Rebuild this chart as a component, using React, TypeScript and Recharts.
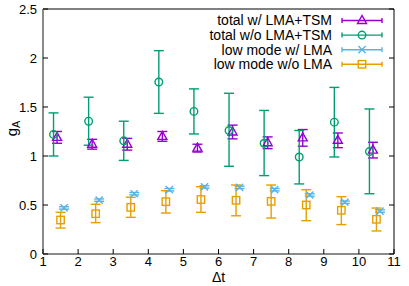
import React from 'react';
import { ComposedChart, Scatter, XAxis, YAxis, ErrorBar, Legend, Label } from 'recharts';

const FONT = '"Liberation Sans", Arial, Helvetica, sans-serif';

const seriesNames = ['total w/ LMA+TSM', 'total w/o LMA+TSM', 'low mode w/ LMA', 'low mode w/o LMA'];
const seriesColors = ['#9400d3', '#009e73', '#56b4e9', '#e69f00'];

// total w/ LMA+TSM (purple triangles)
const xTotalWith = [1.4, 2.4, 3.4, 4.4, 5.4, 6.4, 7.4, 8.4, 9.4, 10.4];
const gTotalWith = [1.19, 1.12, 1.12, 1.2, 1.08, 1.245, 1.135, 1.185, 1.16, 1.06];
const eTotalWith = [0.06, 0.05, 0.06, 0.05, 0.04, 0.07, 0.06, 0.085, 0.075, 0.08];

// total w/o LMA+TSM (green circles)
const xTotalWithout = [1.3, 2.3, 3.3, 4.3, 5.3, 6.3, 7.3, 8.3, 9.3, 10.3];
const gTotalWithout = [1.22, 1.355, 1.155, 1.755, 1.455, 1.26, 1.13, 0.99, 1.345, 1.045];
const loTotalWithout = [1.0, 1.11, 0.955, 1.435, 1.225, 0.895, 0.8, 0.715, 0.99, 0.615];
const hiTotalWithout = [1.44, 1.6, 1.355, 2.075, 1.685, 1.64, 1.465, 1.26, 1.7, 1.48];

// low mode w/ LMA (blue crosses)
const xLowWith = [1.6, 2.6, 3.6, 4.6, 5.6, 6.6, 7.6, 8.6, 9.6, 10.6];
const gLowWith = [0.47, 0.55, 0.615, 0.656, 0.684, 0.68, 0.656, 0.602, 0.528, 0.438];
const eLowWith = [0.012, 0.012, 0.012, 0.012, 0.012, 0.012, 0.012, 0.012, 0.012, 0.012];

// low mode w/o LMA (orange squares)
const xLowWithout = [1.5, 2.5, 3.5, 4.5, 5.5, 6.5, 7.5, 8.5, 9.5, 10.5];
const gLowWithout = [0.347, 0.411, 0.476, 0.534, 0.556, 0.548, 0.537, 0.5, 0.446, 0.354];
const loLowWithout = [0.265, 0.32, 0.374, 0.418, 0.425, 0.39, 0.367, 0.34, 0.3, 0.235];
const hiLowWithout = [0.425, 0.507, 0.579, 0.646, 0.687, 0.704, 0.704, 0.656, 0.585, 0.469];

const xTicks = [1, 2, 3, 4, 5, 6, 7, 8, 9, 10, 11];
const yTicks = [0, 0.5, 1, 1.5, 2, 2.5];
const xLabel = 'Δt';
const yLabelMain = 'g';
const yLabelSub = 'A';

const symRows = (x: number[], y: number[], e: number[]) =>
  x.map((xv, i) => ({ x: xv, y: y[i], err: e[i] }));
const asymRows = (x: number[], y: number[], lo: number[], hi: number[]) =>
  x.map((xv, i) => ({ x: xv, y: y[i], err: [y[i] - lo[i], hi[i] - y[i]] }));

const dataTotalWith = symRows(xTotalWith, gTotalWith, eTotalWith);
const dataTotalWithout = asymRows(xTotalWithout, gTotalWithout, loTotalWithout, hiTotalWithout);
const dataLowWith = symRows(xLowWith, gLowWith, eLowWith);
const dataLowWithout = asymRows(xLowWithout, gLowWithout, loLowWithout, hiLowWithout);

const SW = 1.4;

const Marker = ({ kind, cx, cy, color }: { kind: number; cx: number; cy: number; color: string }) => {
  if (kind === 0) {
    return (
      <polygon
        points={`${cx},${cy - 5} ${cx - 4.5},${cy + 3} ${cx + 4.5},${cy + 3}`}
        fill="none"
        stroke={color}
        strokeWidth={SW}
      />
    );
  }
  if (kind === 1) {
    return <circle cx={cx} cy={cy} r={3.8} fill="none" stroke={color} strokeWidth={SW} />;
  }
  if (kind === 2) {
    return (
      <g stroke={color} strokeWidth={SW}>
        <line x1={cx - 3.6} y1={cy - 3.6} x2={cx + 3.6} y2={cy + 3.6} />
        <line x1={cx - 3.6} y1={cy + 3.6} x2={cx + 3.6} y2={cy - 3.6} />
      </g>
    );
  }
  return <rect x={cx - 3.7} y={cy - 3.7} width={7.4} height={7.4} fill="none" stroke={color} strokeWidth={SW} />;
};

const makeShape = (kind: number) => (props: any) =>
  <Marker kind={kind} cx={props.cx} cy={props.cy} color={seriesColors[kind]} />;

const BottomTick = (props: any) => {
  const { x, y, payload } = props;
  const axisY = y - 3;
  return (
    <g>
      <line x1={x} y1={axisY} x2={x} y2={axisY - 5} stroke="#000" strokeWidth={1} />
      <text x={x} y={y} dy="0.71em" textAnchor="middle" fontFamily={FONT} fontSize={13} fill="#000">
        {payload.value}
      </text>
    </g>
  );
};

const LeftTick = (props: any) => {
  const { x, y, payload } = props;
  const axisX = x + 6;
  return (
    <g>
      <line x1={axisX} y1={y} x2={axisX + 5} y2={y} stroke="#000" strokeWidth={1} />
      <text x={x} y={y} dy="0.355em" textAnchor="end" fontFamily={FONT} fontSize={13} fill="#000">
        {payload.value}
      </text>
    </g>
  );
};

const TopTick = (props: any) => {
  const { x, y } = props;
  return <line x1={x} y1={y} x2={x} y2={y + 5} stroke="#000" strokeWidth={1} />;
};

const RightTick = (props: any) => {
  const { x, y } = props;
  return <line x1={x} y1={y} x2={x - 5} y2={y} stroke="#000" strokeWidth={1} />;
};

const LegendBox = () => (
  <svg width={409} height={286} style={{ position: 'absolute', left: 0, top: 0 }}>
    {seriesNames.map((name, i) => {
      const y = 20.5 + i * 14.6;
      return (
        <g key={name}>
          <text x={332} y={y} dy="0.355em" textAnchor="end" fontFamily={FONT} fontSize={14} fill="#000">
            {name}
          </text>
          <g stroke={seriesColors[i]} strokeWidth={SW}>
            <line x1={342} y1={y} x2={382} y2={y} />
            <line x1={342} y1={y - 2.5} x2={342} y2={y + 2.5} />
            <line x1={382} y1={y - 2.5} x2={382} y2={y + 2.5} />
          </g>
          <Marker kind={i} cx={362} cy={y} color={seriesColors[i]} />
        </g>
      );
    })}
  </svg>
);

const series = [
  { data: dataTotalWith, kind: 0 },
  { data: dataTotalWithout, kind: 1 },
  { data: dataLowWith, kind: 2 },
  { data: dataLowWithout, kind: 3 },
];

export default function App() {
  return (
    <div style={{ position: 'absolute', left: 0, top: 0, width: 409, height: 286, background: '#fff' }}>
      <ComposedChart width={409} height={286} margin={{ top: 0, right: 0, bottom: 0, left: 0 }}>
        <XAxis
          xAxisId="b"
          dataKey="x"
          type="number"
          domain={[1, 11]}
          ticks={xTicks}
          interval={0}
          height={32}
          tickSize={0}
          tickMargin={3}
          tickLine={false}
          axisLine={{ stroke: '#8a8a8a', strokeWidth: 2 }}
          tick={<BottomTick />}
          allowDataOverflow
        >
          <Label
            content={(p: any) => {
              const vb = p.viewBox || { x: 43, y: 254, width: 351 };
              return (
                <text
                  x={vb.x + vb.width / 2}
                  y={vb.y + 28}
                  textAnchor="middle"
                  fontFamily={FONT}
                  fontSize={14}
                  fill="#000"
                >
                  {xLabel}
                </text>
              );
            }}
          />
        </XAxis>
        <XAxis
          xAxisId="t"
          orientation="top"
          type="number"
          domain={[1, 11]}
          ticks={xTicks}
          interval={0}
          height={9}
          tickSize={0}
          tickMargin={0}
          tickLine={false}
          axisLine={{ stroke: '#000', strokeWidth: 1 }}
          tick={<TopTick />}
          allowDataOverflow
        />
        <YAxis
          yAxisId="l"
          dataKey="y"
          type="number"
          domain={[0, 2.5]}
          ticks={yTicks}
          interval={0}
          width={43}
          tickSize={0}
          tickMargin={6}
          tickLine={false}
          axisLine={{ stroke: '#8a8a8a', strokeWidth: 2 }}
          tick={<LeftTick />}
          allowDataOverflow
        >
          <Label
            content={(p: any) => {
              const vb = p.viewBox || { x: 0, y: 9, height: 245 };
              const cy = vb.y + vb.height / 2 - 3;
              return (
                <text
                  transform={`translate(17,${cy}) rotate(-90)`}
                  textAnchor="middle"
                  fontFamily={FONT}
                  fontSize={15}
                  fill="#000"
                >
                  {yLabelMain}
                  <tspan fontSize={11} dy={3}>
                    {yLabelSub}
                  </tspan>
                </text>
              );
            }}
          />
        </YAxis>
        <YAxis
          yAxisId="r"
          orientation="right"
          type="number"
          domain={[0, 2.5]}
          ticks={yTicks}
          interval={0}
          width={15}
          tickSize={0}
          tickMargin={0}
          tickLine={false}
          axisLine={{ stroke: '#000', strokeWidth: 1 }}
          tick={<RightTick />}
          allowDataOverflow
        />
        <Legend
          layout="horizontal"
          verticalAlign="middle"
          align="center"
          wrapperStyle={{ position: 'absolute', left: 0, top: 0, width: 409, height: 286, pointerEvents: 'none' }}
          content={() => <LegendBox />}
        />
        {series.map((s) => (
          <Scatter
            key={seriesNames[s.kind]}
            name={seriesNames[s.kind]}
            data={s.data}
            dataKey="y"
            xAxisId="b"
            yAxisId="l"
            isAnimationActive={false}
            shape={makeShape(s.kind)}
          >
            <ErrorBar
              dataKey="err"
              direction="y"
              width={5}
              stroke={seriesColors[s.kind]}
              strokeWidth={SW}
              isAnimationActive={false}
            />
          </Scatter>
        ))}
      </ComposedChart>
    </div>
  );
}
